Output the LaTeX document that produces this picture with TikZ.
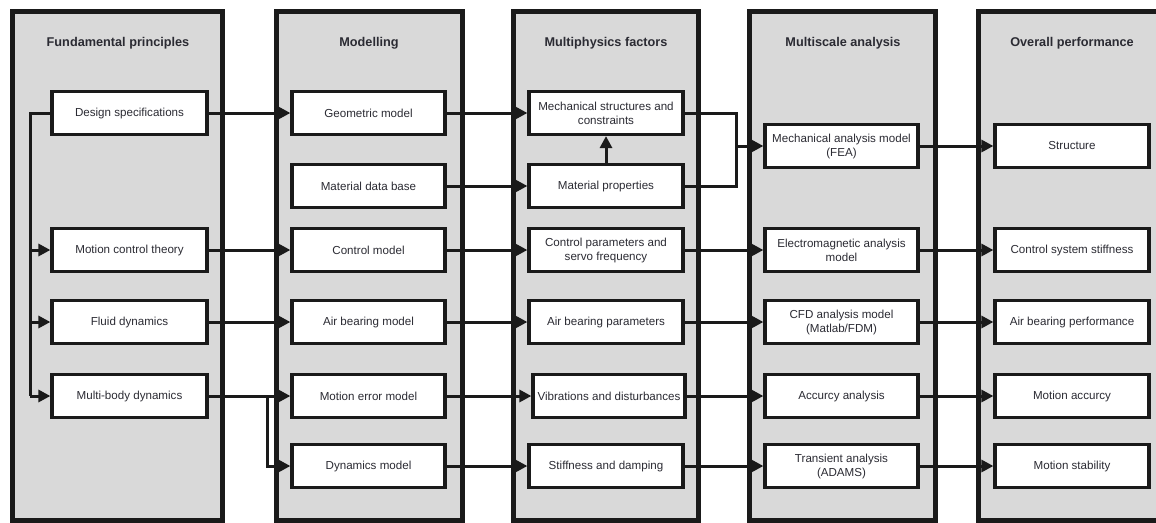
\documentclass[tikz,border=0pt]{standalone}
\usepackage{fontspec}
\setmainfont{Liberation Sans}
\usetikzlibrary{arrows.meta}
\definecolor{panelgray}{HTML}{D9D9D9}
\definecolor{inkc}{HTML}{1A1A1A}
\definecolor{txtc}{HTML}{2B2B33}
\tikzset{
  panel/.style={draw=inkc, line width=5, fill=panelgray},
  ptitle/.style={font=\fontsize{12.7}{14}\selectfont\bfseries, text=txtc},
  box/.style={draw=inkc, line width=3.2, fill=white, minimum height=43, inner sep=1,
    align=center, font=\fontsize{11.6}{14}\selectfont, text=txtc},
  c1/.style={box, minimum width=155},
  c2/.style={box, minimum width=153},
  c3/.style={box, minimum width=154},
  c4/.style={box, minimum width=153},
  c5/.style={box, minimum width=154},
  wire/.style={draw=inkc, line width=3},
  conn/.style={wire, -{Triangle[length=12,width=12]}},
}
\begin{document}
\begin{tikzpicture}[x=1pt,y=-1pt]
\useasboundingbox (0,0) rectangle (1156,522);
\clip (0,0) rectangle (1156,522);

% column panels
\draw[panel] (12,11) rectangle (222,520);
\draw[panel] (276,11) rectangle (462,520);
\draw[panel] (513,11) rectangle (698,520);
\draw[panel] (749,11) rectangle (935,520);
\draw[panel] (978,11) rectangle (1170,520);

% column titles
\node[ptitle] (t1) at (118,43) {Fundamental principles};
\node[ptitle] (t2) at (369,43) {Modelling};
\node[ptitle] (t3) at (606,43) {Multiphysics factors};
\node[ptitle] (t4) at (843,43) {Multiscale analysis};
\node[ptitle] (t5) at (1072,43) {Overall performance};

% fundamental principles
\node[c1] (ds)  at (129.5,113) {Design specifications};
\node[c1] (mct) at (129.5,250) {Motion control theory};
\node[c1] (fd)  at (129.5,322) {Fluid dynamics};
\node[c1] (mbd) at (129.5,396) {Multi-body dynamics};

% modelling
\node[c2] (gm)  at (368.5,113) {Geometric model};
\node[c2] (mdb) at (368.5,186) {Material data base};
\node[c2] (cm)  at (368.5,250) {Control model};
\node[c2] (abm) at (368.5,322) {Air bearing model};
\node[c2] (mem) at (368.5,396) {Motion error model};
\node[c2] (dm)  at (368.5,466) {Dynamics model};

% multiphysics factors
\node[c3] (msc) at (606,113) {Mechanical structures and\\constraints};
\node[c3] (mp)  at (606,186) {Material properties};
\node[c3] (cp)  at (606,250) {Control parameters and\\servo frequency};
\node[c3] (abp) at (606,322) {Air bearing parameters};
\node[c3, minimum width=152] (vd) at (609,396) {Vibrations and disturbances};
\node[c3] (sd)  at (606,466) {Stiffness and damping};

% multiscale analysis
\node[c4] (fea) at (841.5,146) {Mechanical analysis model\\(FEA)};
\node[c4] (ema) at (841.5,250) {Electromagnetic analysis\\model};
\node[c4] (cfd) at (841.5,322) {CFD analysis model\\(Matlab/FDM)};
\node[c4] (acc) at (841.5,396) {Accurcy analysis};
\node[c4] (tra) at (841.5,466) {Transient analysis\\(ADAMS)};

% overall performance
\node[c5] (st)  at (1072,146) {Structure};
\node[c5] (css) at (1072,250) {Control system stiffness};
\node[c5] (abf) at (1072,322) {Air bearing performance};
\node[c5] (ma)  at (1072,396) {Motion accurcy};
\node[c5] (ms)  at (1072,466) {Motion stability};

% feed from design specifications to the other principles
\coordinate (bus) at (30,113);
\draw[wire] (ds.west) -- (bus) -- (bus |- mbd.west);
\draw[conn] (bus |- mct.west) -- (mct.west);
\draw[conn] (bus |- fd.west) -- (fd.west);
\draw[conn] (bus |- mbd.west) -- (mbd.west);

% principles to models
\draw[conn] (ds.east) -- (gm.west);
\draw[conn] (mct.east) -- (cm.west);
\draw[conn] (fd.east) -- (abm.west);
\draw[conn] (mbd.east) -- (mem.west);
\coordinate (split) at (267,396);
\draw[conn] (split) |- (dm.west);

% models to multiphysics factors
\draw[conn] (gm.east) -- (msc.west);
\draw[conn] (mdb.east) -- (mp.west);
\draw[conn] (mp.north) -- (msc.south);
\draw[conn] (cm.east) -- (cp.west);
\draw[conn] (abm.east) -- (abp.west);
\draw[conn] (mem.east) -- (vd.west);
\draw[conn] (dm.east) -- (sd.west);

% multiphysics factors to analyses
\coordinate (join) at (736,146);
\draw[wire] (msc.east) -| (join);
\draw[wire] (mp.east) -| (join);
\draw[conn] (join) -- (fea.west);
\draw[conn] (cp.east) -- (ema.west);
\draw[conn] (abp.east) -- (cfd.west);
\draw[conn] (vd.east) -- (acc.west);
\draw[conn] (sd.east) -- (tra.west);

% analyses to performance
\draw[conn] (fea.east) -- (st.west);
\draw[conn] (ema.east) -- (css.west);
\draw[conn] (cfd.east) -- (abf.west);
\draw[conn] (acc.east) -- (ma.west);
\draw[conn] (tra.east) -- (ms.west);
\end{tikzpicture}
\end{document}
